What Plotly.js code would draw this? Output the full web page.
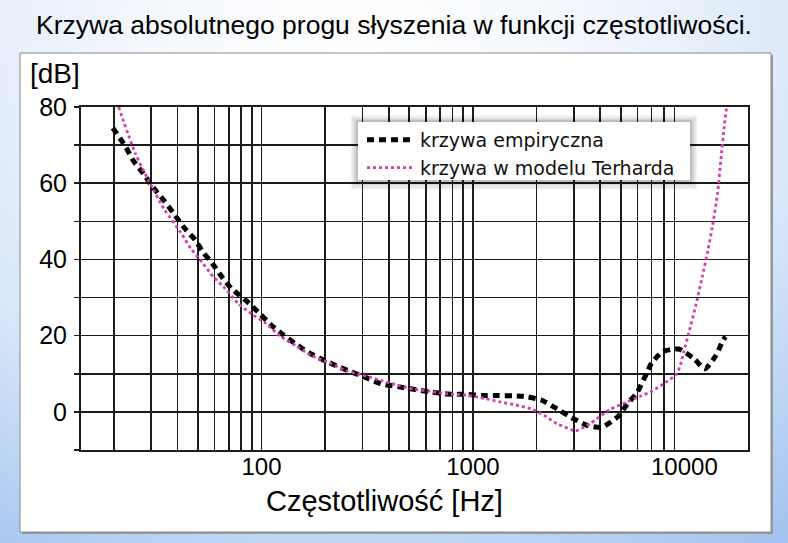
<!DOCTYPE html>
<html>
<head>
<meta charset="utf-8">
<script src="https://cdn.plot.ly/plotly-3.0.1.min.js"></script>
<style>
  html, body { margin: 0; padding: 0; }
  body {
    width: 788px; height: 543px; overflow: hidden;
    background: radial-gradient(ellipse 90% 115% at 45% 5%, #ffffff 0%, #f3f7fd 32%, #d9e7f9 66%, #a4c4f0 100%);
  }
  #chart { width: 788px; height: 543px; }
</style>
</head>
<body>
<div id="chart"></div>
<script>
// ---- data ----
const empFreq = [19.8, 22.8, 24.7, 27.6, 30.8, 34.4, 38.3, 42.5, 48.4, 53.1, 58.6, 64.8, 72, 84.8, 97.7, 110.5, 126, 145, 168, 193, 226, 265, 312, 367, 456, 540, 636, 755, 929, 1105, 1306, 1546, 1795, 2128, 2500, 2930, 3490, 4080, 4860, 5370, 5950, 6470, 7000, 7900, 9400, 11100, 12500, 14100, 15300, 15700];
const empDb   = [74.5, 69.5, 66.0, 62.5, 58.8, 55.6, 52.2, 48.7, 45.2, 41.8, 38.9, 35.5, 32.4, 29.1, 25.9, 22.9, 20.3, 17.8, 15.5, 13.8, 12.1, 10.5, 9.0, 7.4, 6.5, 5.8, 5.2, 4.7, 4.6, 4.3, 4.3, 4.2, 4.0, 3.0, 0.8, -1.5, -3.6, -4.0, -1.2, 2.1, 4.9, 8.9, 12.8, 15.8, 16.5, 14.0, 11.3, 14.8, 19.0, 19.7];

const terFreq = [21.1, 25.3, 29.2, 34.8, 41.7, 46.1, 52.6, 59, 65.9, 77.4, 90.8, 104.4, 123, 146, 172, 211, 252, 312, 374, 429, 522, 626, 740, 957, 1143, 1350, 1596, 1887, 2168, 2500, 2930, 3050, 3580, 4430, 5250, 6180, 7000, 8200, 9200, 9600, 9935, 10490, 11300, 12160, 12850, 13580, 14350, 14880, 15440, 15850];
const terDb   = [80, 67.8, 60.7, 53.0, 46.9, 43.0, 39.1, 35.5, 32.9, 28.5, 25.5, 23.3, 19.8, 17.3, 14.8, 12.8, 10.8, 9.4, 8.1, 7.2, 6.0, 5.4, 4.8, 4.3, 3.5, 2.6, 1.8, 0.8, -0.9, -3.1, -4.7, -5.0, -3.1, 0.6, 2.4, 4.1, 5.4, 7.8, 10.0, 12.5, 15.7, 20.7, 27.7, 35.5, 41.7, 48.7, 57.3, 66.1, 74.9, 80];

const xGridVals = [20, 30, 40, 50, 60, 70, 80, 90, 100, 200, 300, 400, 500, 600, 700, 800, 900, 1000, 2000, 3000, 4000, 5000, 6000, 7000, 8000, 9000];
const xTickVals = [100, 1000, 10000];
const xTickText = ['100', '1000', '10000'];
const yTickVals = [-10, 0, 10, 20, 30, 40, 50, 60, 70, 80];
const yTickText = ['', '0', '', '20', '', '40', '', '60', '', '80'];

const seriesNames = ['krzywa empiryczna', 'krzywa w modelu Terharda'];
const chartTitle = 'Krzywa absolutnego progu słyszenia w funkcji częstotliwości.';
const xTitle = 'Częstotliwość [Hz]';
const yUnit = '[dB]';

// ---- layout helpers (pixel -> paper) ----
const W = 788, H = 543;
const M = {l: 81, r: 40, t: 107, b: 93};
const PW = W - M.l - M.r, PH = H - M.t - M.b;
const px = x => (x - M.l) / PW;
const py = y => (H - M.b - y) / PH;

const FONT = 'Liberation Sans, Arial, sans-serif';
const GRID = '#1c1c1c';

function rect(x0, y0, x1, y1, fill, line, lw, layer) {
  return {type: 'rect', xref: 'paper', yref: 'paper', x0: px(x0), x1: px(x1), y0: py(y1), y1: py(y0),
          fillcolor: fill, line: {color: line || 'rgba(0,0,0,0)', width: lw || 0}, layer: layer || 'below'};
}

const shapes = [
  rect(22, 55, 773, 534, '#9a9a9a', null, 0, 'below'),
  rect(20, 53, 771, 532, '#ffffff', '#8a8a8a', 1, 'below'),
  // legend shadow and box
  rect(350, 115, 698, 190, 'rgba(0,0,0,0.04)', null, 0, 'above'),
  rect(352, 117, 696, 188, 'rgba(0,0,0,0.06)', null, 0, 'above'),
  rect(354, 119, 694, 185, 'rgba(0,0,0,0.08)', null, 0, 'above'),
  rect(356, 120, 692, 183, 'rgba(0,0,0,0.10)', null, 0, 'above'),
  rect(358, 122, 690, 180, '#ffffff', null, 0, 'above')
];

const traces = [
  {x: empFreq, y: empDb, name: seriesNames[0], type: 'scatter', mode: 'lines',
   line: {color: '#000000', width: 5, dash: '7px,5px', shape: 'spline', smoothing: 0.6}},
  {x: terFreq, y: terDb, name: seriesNames[1], type: 'scatter', mode: 'lines',
   line: {color: '#d63cae', width: 2.8, dash: '3px,3px', shape: 'spline', smoothing: 0.6}}
];

const layout = {
  width: W, height: H,
  margin: M,
  paper_bgcolor: 'rgba(0,0,0,0)',
  plot_bgcolor: '#ffffff',
  showlegend: true,
  title: {text: chartTitle, font: {family: FONT, size: 26.5, color: '#000'},
          x: 0.5, xref: 'container', xanchor: 'center', y: 1 - 25 / H, yref: 'container', yanchor: 'middle'},
  xaxis: {
    type: 'log', range: [Math.log10(14), Math.log10(20000)],
    tickmode: 'array', tickvals: xTickVals, ticktext: xTickText,
    showgrid: false, ticks: '', zeroline: false,
    showline: true, mirror: true, linecolor: GRID, linewidth: 2,
    tickfont: {family: FONT, size: 24, color: '#000'},
    ticklabelstandoff: -6,
    minor: {tickmode: 'array', tickvals: xGridVals, showgrid: true, gridcolor: GRID, gridwidth: 1.6, ticks: ''},
    fixedrange: true
  },
  yaxis: {
    range: [-10, 80], tickmode: 'array', tickvals: yTickVals, ticktext: yTickText,
    showgrid: true, gridcolor: GRID, gridwidth: 1.6, zeroline: false,
    ticks: 'outside', ticklen: 5, tickwidth: 1.6, tickcolor: GRID,
    showline: true, mirror: true, linecolor: GRID, linewidth: 2,
    tickfont: {family: FONT, size: 25, color: '#000'},
    ticklabelstandoff: 2,
    fixedrange: true
  },
  legend: {
    x: px(362), y: py(121), xanchor: 'left', yanchor: 'top',
    bgcolor: 'rgba(0,0,0,0)', borderwidth: 0,
    font: {family: 'DejaVu Sans, sans-serif', size: 19, color: '#111'},
    itemwidth: 48, tracegroupgap: 0
  },
  shapes: shapes,
  annotations: [
    {text: yUnit, xref: 'paper', yref: 'paper', x: px(54.5), y: py(73.5), xanchor: 'center', yanchor: 'middle',
     showarrow: false, font: {family: FONT, size: 28, color: '#000'}},
    {text: xTitle, xref: 'paper', yref: 'paper', x: px(384), y: py(501), xanchor: 'center', yanchor: 'middle',
     showarrow: false, font: {family: FONT, size: 29, color: '#000'}}
  ]
};

Plotly.newPlot('chart', traces, layout, {displayModeBar: false, staticPlot: true});
</script>
</body>
</html>
